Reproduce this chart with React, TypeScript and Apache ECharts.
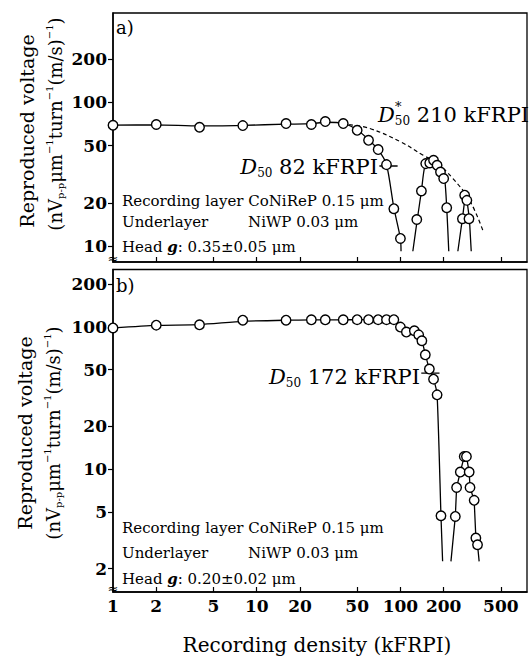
import React, { useEffect, useRef } from "react";
import * as echarts from "echarts";

const FONT = "'DejaVu Serif', 'Liberation Serif', serif";

// Axis ticks
const xTicks = [1, 2, 5, 10, 20, 50, 100, 200, 500];
const yTicksA = [10, 20, 50, 100, 200];
const yTicksB = [2, 5, 10, 20, 50, 100, 200];

// ---- Panel a) measured points ----
const aMarkX = [1, 2, 4, 8, 16, 24, 30, 40, 50, 60, 70, 80, 90, 100, 130, 140, 150, 160, 170, 180, 190, 200, 210, 270, 280, 290, 300];
const aMarkY = [69.4, 70.2, 67.2, 69.0, 71.3, 70.2, 73.6, 71.3, 64.0, 54.5, 47.0, 36.9, 18.2, 11.3, 15.3, 24.2, 37.5, 37.9, 39.6, 36.5, 32.8, 29.5, 18.5, 15.5, 22.6, 20.8, 15.5];
// fitted curves, panel a)
const aCurve1X = [1, 2, 4, 8, 16, 24, 30, 40, 50, 60, 70, 80, 90, 100, 101];
const aCurve1Y = [69.5, 69.8, 68.6, 69.3, 70.6, 71.2, 72.8, 71.5, 64.5, 55, 47, 37, 18.5, 11.3, 9.2];
const aCurve2X = [122, 131, 140, 148, 160, 172, 183, 193, 203, 210, 217];
const aCurve2Y = [9.2, 15.3, 24.2, 36, 39, 39, 36.5, 32.8, 29.5, 18.5, 9.2];
const aCurve3X = [251, 270, 282, 290, 302, 311];
const aCurve3Y = [9.2, 15.5, 22, 21, 15.5, 9.2];
const aEnvX = [44, 61, 101, 144, 177, 232, 303, 374];
const aEnvY = [70, 66, 53, 42.9, 38.2, 29.5, 20.8, 12.9];
const aD50X = [71.4, 95.6];
const aD50Y = [36.1, 36.1];

// ---- Panel b) measured points ----
const bMarkX = [1, 2, 4, 8, 16, 24, 30, 40, 50, 60, 70, 80, 90, 100, 110, 125, 134, 141, 149, 159, 170, 180, 191.5, 241, 246, 261, 278, 288, 301, 305, 326, 335, 344];
const bMarkY = [98, 102.5, 103, 111, 111, 111.7, 111.7, 111.7, 112, 112, 112, 112, 112, 99.3, 91.6, 93.5, 87.6, 79.6, 63.4, 50.4, 42.8, 33.2, 4.7, 4.65, 7.43, 9.53, 12.27, 12.27, 9.53, 7.43, 6.03, 3.28, 2.94];
const bCurve1X = [1, 2, 4, 8, 16, 24, 30, 40, 50, 60, 70, 80, 90, 100, 110, 125, 134, 141, 149, 159, 170, 180, 191.5, 196.6];
const bCurve1Y = [98, 102, 103.5, 109, 111, 111.5, 111.7, 111.7, 112, 112, 112, 112, 111.5, 101, 93, 92.5, 87.6, 80, 64, 50.4, 42.8, 33.2, 4.7, 2.25];
const bCurve2X = [224.7, 241, 246, 261, 278, 283, 288, 301, 305, 326, 335, 344, 353];
const bCurve2Y = [2.25, 4.65, 7.43, 9.53, 12.27, 13, 12.27, 9.53, 7.43, 6.03, 3.28, 2.94, 2.25];
const bD50X = [139.7, 187];
const bD50Y = [47.2, 47.2];

const zip = (xs: number[], ys: number[]) => xs.map((x, i) => [x, ys[i]]);

export default function App() {
  const ref = useRef<HTMLDivElement>(null);
  useEffect(() => {
    const chart = echarts.init(ref.current!, null, { renderer: "svg" });
    const black = "#000";
    const curveStyle = { color: black, width: 1.3 };

    const tickLabel = {
      color: black,
      fontFamily: FONT,
      fontSize: 17,
      fontWeight: "bold",
      showMinLabel: true,
      showMaxLabel: true,
      hideOverlap: false,
      formatter: (v: number) => String(Math.round(v)),
    };

    const xAxis = (gridIndex: number, showLabels: boolean) => ({
      type: "log",
      logBase: 10,
      gridIndex,
      min: 1,
      max: 760,
      axisLine: { show: true, lineStyle: { color: black, width: 1.5 } },
      axisTick: { show: true, inside: true, length: 5, customValues: xTicks, lineStyle: { color: black, width: 1.2 } },
      axisLabel: { ...tickLabel, show: showLabels, customValues: xTicks, margin: 5 },
      splitLine: { show: false },
      minorTick: { show: false },
      minorSplitLine: { show: false },
    });

    const yAxis = (gridIndex: number, min: number, max: number, ticks: number[]) => ({
      type: "log",
      logBase: 10,
      gridIndex,
      min,
      max,
      axisLine: { show: true, lineStyle: { color: black, width: 1.5 } },
      axisTick: { show: true, inside: false, length: 5, customValues: ticks, lineStyle: { color: black, width: 1.2 } },
      axisLabel: { ...tickLabel, customValues: ticks, margin: 6 },
      splitLine: { show: false },
      minorTick: { show: false },
      minorSplitLine: { show: false },
    });

    const curve = (xs: number[], ys: number[], idx: number, smooth: number | boolean, dashed = false) => ({
      type: "line",
      xAxisIndex: idx,
      yAxisIndex: idx,
      data: zip(xs, ys),
      symbol: "none",
      showSymbol: false,
      smooth,
      lineStyle: dashed ? { color: black, width: 1.2, type: [4, 3] } : curveStyle,
      z: 3,
      silent: true,
    });

    const markers = (xs: number[], ys: number[], idx: number) => ({
      type: "scatter",
      xAxisIndex: idx,
      yAxisIndex: idx,
      data: zip(xs, ys),
      symbol: "circle",
      symbolSize: 9.5,
      itemStyle: { color: "#fff", borderColor: black, borderWidth: 1.4, opacity: 1 },
      z: 5,
      silent: true,
    });

    const txt = (x: number, y: number, text: string, size: number, align = "left", extra: any = {}) => ({
      type: "text",
      x,
      y,
      silent: true,
      ...extra,
      style: {
        text,
        fill: black,
        fontFamily: FONT,
        fontSize: size,
        align,
        textAlign: align,
        verticalAlign: "middle",
        textVerticalAlign: "middle",
        ...(extra.style || {}),
      },
    });

    const baseRich = (size: number) => ({
      n: { fontFamily: FONT, fontSize: size, fill: black, color: black },
      i: { fontFamily: FONT, fontSize: size, fontStyle: "italic", fill: black, color: black },
      sub: { fontFamily: FONT, fontSize: Math.round(size * 0.58), padding: [Math.round(size * 0.55), 0, 0, 0], fill: black, color: black },
      sup: { fontFamily: FONT, fontSize: Math.round(size * 0.58), padding: [0, 0, Math.round(size * 0.6), 0], fill: black, color: black },
      ib: { fontFamily: FONT, fontSize: size, fontStyle: "italic", fontWeight: "bold", fill: black, color: black },
    });

    const richTxt = (x: number, y: number, text: string, size: number, align = "left", rotation = 0) => ({
      type: "text",
      x,
      y,
      rotation,
      silent: true,
      style: {
        text,
        rich: baseRich(size),
        fill: black,
        fontFamily: FONT,
        fontSize: size,
        align,
        textAlign: align,
        verticalAlign: "middle",
        textVerticalAlign: "middle",
      },
    });

    const unitText = "{n|(nV}{sub|p-p}{n|μm}{sup|−1}{n|turn}{sup|−1}{n|(m/s)}{sup|−1}{n|)}";

    const option = {
      animation: false,
      backgroundColor: "#fff",
      grid: [
        { left: 113, top: 13, width: 414, height: 249, show: true, borderColor: black, borderWidth: 1.3, containLabel: false },
        { left: 113, top: 269.5, width: 414, height: 322.5, show: true, borderColor: black, borderWidth: 1.3, containLabel: false },
      ],
      xAxis: [xAxis(0, false), xAxis(1, true)],
      yAxis: [yAxis(0, 7.74, 420, yTicksA), yAxis(1, 1.37, 252, yTicksB)],
      series: [
        curve(aCurve1X, aCurve1Y, 0, 0.25),
        curve(aCurve2X, aCurve2Y, 0, 0.25),
        curve(aCurve3X, aCurve3Y, 0, false),
        curve(aEnvX, aEnvY, 0, 0.4, true),
        curve(aD50X, aD50Y, 0, false),
        markers(aMarkX, aMarkY, 0),
        curve(bCurve1X, bCurve1Y, 1, 0.2),
        curve(bCurve2X, bCurve2Y, 1, false),
        curve(bD50X, bD50Y, 1, false),
        markers(bMarkX, bMarkY, 1),
      ],
      graphic: {
        elements: [
          txt(116, 27, "a)", 18),
          txt(116, 285, "b)", 18),
          richTxt(378, 167, "{i|D}{sub|50}{n| 82 kFRPI}", 21, "right"),
          richTxt(378, 115, "{i|D}{sub|50}{n| 210 kFRPI}", 21, "left"),
          txt(395, 106, "*", 13),
          richTxt(420, 377, "{i|D}{sub|50}{n| 172 kFRPI}", 21, "right"),
          txt(122, 201, "Recording layer CoNiReP 0.15 μm", 15),
          txt(122, 222, "Underlayer", 15),
          txt(248, 222, "NiWP 0.03 μm", 15),
          richTxt(122, 247, "{n|Head }{ib|g}{n|: 0.35±0.05 μm}", 15),
          txt(122, 528, "Recording layer CoNiReP 0.15 μm", 15),
          txt(122, 553, "Underlayer", 15),
          txt(248, 553, "NiWP 0.03 μm", 15),
          richTxt(122, 579, "{n|Head }{ib|g}{n|: 0.20±0.02 μm}", 15),
          txt(113, 258, "≈", 13, "center"),
          txt(113, 588, "≈", 13, "center"),
          txt(317, 645, "Recording density (kFRPI)", 20, "center"),
          txt(27, 131, "Reproduced voltage", 19, "center", { rotation: Math.PI / 2 }),
          richTxt(55, 124, unitText, 18, "center", Math.PI / 2),
          txt(25, 433, "Reproduced voltage", 19, "center", { rotation: Math.PI / 2 }),
          richTxt(53, 433, unitText, 18, "center", Math.PI / 2),
        ],
      },
    };
    chart.setOption(option as any);
    return () => chart.dispose();
  }, []);
  return (
    <div
      ref={ref}
      style={{ position: "fixed", left: 0, top: 0, width: 530, height: 659, background: "#fff" }}
    />
  );
}
